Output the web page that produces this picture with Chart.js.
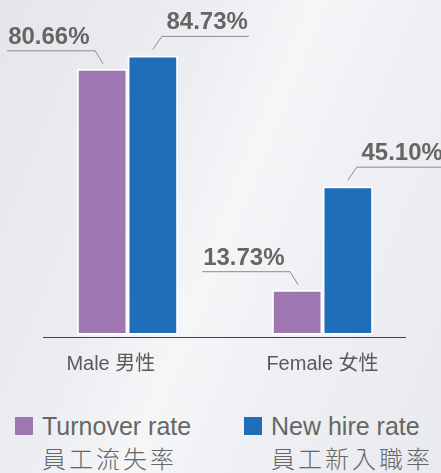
<!DOCTYPE html>
<html>
<head>
<meta charset="utf-8">
<script src="https://cdn.jsdelivr.net/npm/chart.js@4/dist/chart.umd.min.js"></script>
<style>
  body {
    margin: 0;
    width: 441px;
    height: 473px;
    overflow: hidden;
    background: linear-gradient(112deg, #e4e6e9 0%, #eceef1 35%, #f5f6f8 50%, #eef0f3 68%, #e8eaed 100%);
    font-family: "Liberation Sans", "Noto Sans CJK TC", sans-serif;
  }
  #wrap { position: relative; width: 441px; height: 380px; }
  .item { position: absolute; top: 412px; color: #666; }
  .item .box { position: absolute; left: 0; top: 5px; width: 18px; height: 18px; }
  .item .l1 { position: absolute; left: 27px; top: 0; font-size: 25px; line-height: 28px; white-space: nowrap; }
  .item .l2 { position: absolute; left: 27px; top: 32px; font-size: 24px; line-height: 28px; letter-spacing: 3px; white-space: nowrap; font-family: "Noto Sans CJK TC", sans-serif; font-weight: 300; }
</style>
</head>
<body>
<div id="wrap"><canvas id="chart" width="441" height="380"></canvas></div>
<div id="legend"></div>
<script>
const categories = ['Male 男性', 'Female 女性'];
const turnoverRate = [80.66, 13.73];
const newHireRate = [84.73, 45.10];
const seriesEn = ['Turnover rate', 'New hire rate'];
const seriesZh = ['員工流失率', '員工新入職率'];

const purple = '#9e76b2';
const blue = '#1f6eb9';

// leader lines + value labels
const labelPlugin = {
    id: 'valueLabels',
    afterDatasetsDraw(chart) {
        const ctx = chart.ctx;
        ctx.save();
        ctx.font = 'bold 24px "Liberation Sans", Arial, sans-serif';
        ctx.fillStyle = '#666';
        ctx.strokeStyle = '#8a8a8a';
        ctx.lineWidth = 1;
        chart.data.datasets.forEach((ds, di) => {
            chart.getDatasetMeta(di).data.forEach((bar, i) => {
                const x = bar.x, y = bar.y;
                const text = ds.data[i].toFixed(2) + '%';
                ctx.beginPath();
                if (di === 0) {
                    ctx.moveTo(x + 1, y - 5);
                    ctx.lineTo(x - 7, y - 18);
                    ctx.lineTo(x - 95, y - 18);
                    ctx.stroke();
                    ctx.textAlign = 'left';
                    ctx.fillText(text, x - 94, y - 25);
                } else {
                    ctx.moveTo(x, y - 6);
                    ctx.lineTo(x + 9, y - 19);
                    ctx.lineTo(x + 96, y - 19);
                    ctx.stroke();
                    ctx.textAlign = 'right';
                    ctx.fillText(text, x + 95, y - 26);
                }
            });
        });
        // x axis line
        const a = chart.chartArea;
        ctx.strokeStyle = '#444';
        ctx.beginPath();
        ctx.moveTo(a.left + 13, a.bottom + 2.5);
        ctx.lineTo(a.right - 14, a.bottom + 2.5);
        ctx.stroke();
        ctx.restore();
    }
};

new Chart(document.getElementById('chart'), {
    type: 'bar',
    data: {
        labels: categories,
        datasets: [{
            label: seriesEn[0],
            data: turnoverRate,
            backgroundColor: purple,
            borderColor: '#ffffff',
            borderWidth: 2,
            borderSkipped: false
        }, {
            label: seriesEn[1],
            data: newHireRate,
            backgroundColor: blue,
            borderColor: '#ffffff',
            borderWidth: 2,
            borderSkipped: false
        }]
    },
    options: {
        responsive: false,
        animation: false,
        datasets: { bar: { categoryPercentage: 0.52, barPercentage: 1.0 } },
        layout: { padding: { left: 30, right: 21, top: 5, bottom: 0 } },
        scales: {
            x: {
                grid: { display: false },
                border: { display: false },
                ticks: {
                    color: '#5a5a5a',
                    padding: 9,
                    font: { size: 20, family: '"Liberation Sans", "Noto Sans CJK TC", sans-serif' },
                    callback: (v, i) => i === 0 ? categories[i] + '      ' : categories[i]
                },
                afterFit(scale) { scale.height = 45; }
            },
            y: { display: false, min: 0, max: 100 }
        },
        plugins: {
            legend: { display: false },
            tooltip: { enabled: false }
        }
    },
    plugins: [labelPlugin]
});

// legend with two-line labels
const legend = document.getElementById('legend');
const lefts = [15, 244];
[purple, blue].forEach((c, i) => {
    const item = document.createElement('div');
    item.className = 'item';
    item.style.left = lefts[i] + 'px';
    item.innerHTML = `<span class="box" style="background:${c}"></span>` +
        `<div class="l1">${seriesEn[i]}</div><div class="l2">${seriesZh[i]}</div>`;
    legend.appendChild(item);
});
</script>
</body>
</html>
